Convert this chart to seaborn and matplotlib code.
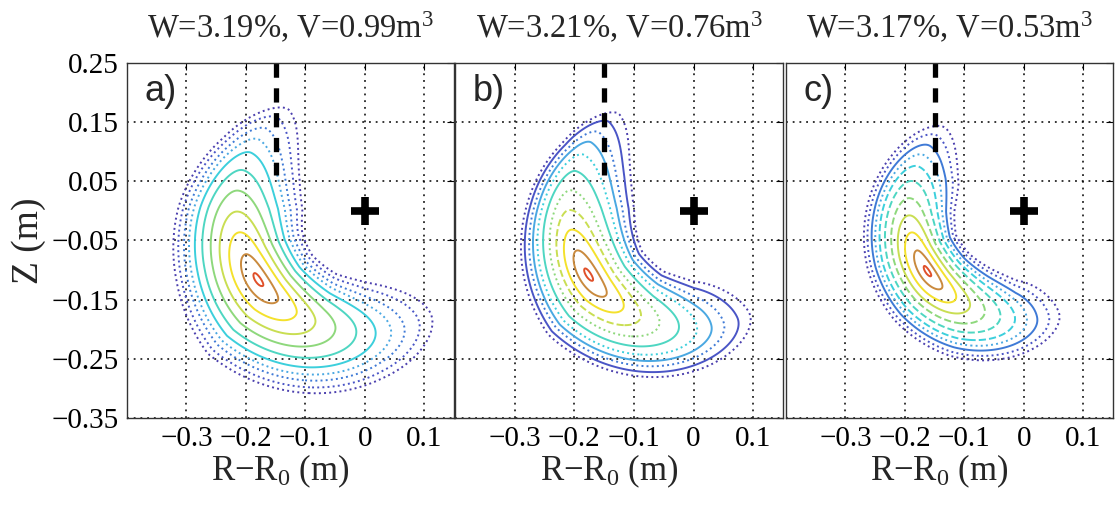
import numpy as np
import matplotlib
matplotlib.use("Agg")
import matplotlib.pyplot as plt
import seaborn as sns
import pandas as pd

# ---------------- data ----------------
titles = ["W=3.19%, V=0.99m$^3$", "W=3.21%, V=0.76m$^3$", "W=3.17%, V=0.53m$^3$"]
panel_labels = ["a)", "b)", "c)"]
x_ticks = [-0.3, -0.2, -0.1, 0.0, 0.1]
x_tick_labels = ["\u22120.3", "\u22120.2", "\u22120.1", "0", "0.1"]
y_ticks = [0.25, 0.15, 0.05, -0.05, -0.15, -0.25, -0.35]
y_tick_labels = ["0.25", "0.15", "0.05", "\u22120.05", "\u22120.15", "\u22120.25", "\u22120.35"]

# banana-shaped distribution in polar coordinates about (center_R, center_Z)
center_R = -0.01
center_Z = 0.0
peak_r = [0.205, 0.198, 0.183]          # m, radius of the maximum
peak_theta = [214.5, 213.0, 213.9]      # deg, angle of the maximum
span_top = [90.0, 88.0, 83.0]           # deg, extent towards the upper tip
span_bottom = [90.5, 88.0, 78.0]        # deg, extent towards the lower-right tip
# radial half-widths of the outermost contour along the banana (u=-1 upper tip, u=+1 lower tip)
u_nodes = [-1.0, -0.7, -0.4, -0.15, 0.1, 0.4, 0.7, 1.0]
width_out = [
    [0.058, 0.076, 0.107, 0.125, 0.146, 0.130, 0.113, 0.105],
    [0.050, 0.058, 0.078, 0.097, 0.116, 0.107, 0.098, 0.090],
    [0.060, 0.068, 0.079, 0.089, 0.095, 0.095, 0.088, 0.080],
]
width_in = [
    [0.130, 0.128, 0.120, 0.104, 0.097, 0.100, 0.115, 0.135],
    [0.130, 0.126, 0.118, 0.107, 0.096, 0.096, 0.110, 0.140],
    [0.110, 0.103, 0.083, 0.072, 0.074, 0.082, 0.092, 0.120],
]

# contour levels (normalised distance from the maximum), inner -> outer
levels = [0.04, 0.15, 0.27, 0.38, 0.49, 0.60, 0.70, 0.78, 0.85, 0.93, 1.00]
level_colors = ["#e0502a", "#c98a3e", "#f4e12c", "#c9de52", "#8ed87c", "#4ed6c2",
                "#3ccfdc", "#4aa8e2", "#3f7ad6", "#4a55c6", "#4b3fae"]
level_styles = [
    ["-", "-", "-", "-", "-", "-", "-", ":", ":", ":", ":"],
    ["-", "-", "-", "--", ":", "-", ":", "-", ":", "-", ":"],
    ["-", "-", "-", "-", "--", "--", "--", ":", "-", ":", ":"],
]

dash_R = [-0.15, -0.15]
dash_Z = [0.25, 0.06]
plus_R = [0.0]
plus_Z = [0.0]

xlim = (-0.4, 0.15)
ylim = (-0.35, 0.25)

# ---------------- style ----------------
sns.set_theme(style="white")
plt.rcParams["font.family"] = ["Liberation Serif", "DejaVu Serif"]
plt.rcParams["mathtext.fontset"] = "custom"
plt.rcParams["mathtext.rm"] = "Liberation Serif"
plt.rcParams["mathtext.it"] = "Liberation Serif:italic"
plt.rcParams["axes.unicode_minus"] = True

fig = plt.figure(figsize=(11.15, 5.07), dpi=100)
W, H = 1115.0, 507.0
boxes = [(127, 454), (455, 783), (786, 1113)]
top_px, bot_px = 63, 418

Rg = np.linspace(xlim[0], xlim[1], 800)
Zg = np.linspace(ylim[0], ylim[1], 800)
RR, ZZ = np.meshgrid(Rg, Zg)
dR = RR - center_R
dZ = ZZ - center_Z
rad = np.hypot(dR, dZ)
th = np.degrees(np.arctan2(dZ, dR)) % 360.0

for i in range(3):
    l, r = boxes[i]
    ax = fig.add_axes([l / W, (H - bot_px) / H, (r - l) / W, (bot_px - top_px) / H])

    dth = (th - peak_theta[i] + 180.0) % 360.0 - 180.0
    u = np.where(dth < 0, dth / span_top[i], dth / span_bottom[i])
    uc = np.clip(u, -1, 1)
    dr = rad - peak_r[i]
    w_o = np.interp(uc, u_nodes, width_out[i])
    w_i = np.interp(uc, u_nodes, width_in[i])
    v = np.where(dr < 0, dr / w_i, dr / w_o)
    D = np.sqrt(u ** 2 + v ** 2)

    ax.contour(RR, ZZ, D, levels=levels, colors=level_colors,
               linestyles=level_styles[i], linewidths=1.4)

    df_dash = pd.DataFrame({"R": dash_R, "Z": dash_Z})
    sns.lineplot(data=df_dash, x="R", y="Z", ax=ax, color="black", lw=3.8,
                 sort=False, estimator=None, legend=False)
    ax.lines[-1].set_dashes((2.7, 2.0))
    ax.plot(plus_R, plus_Z, marker="+", color="black", ms=20, mew=5.5, ls="none")

    ax.set_xlim(*xlim)
    ax.set_ylim(*ylim)
    ax.set_xticks(x_ticks)
    ax.set_xticklabels(x_tick_labels, fontsize=21)
    ax.set_yticks(y_ticks)
    if i == 0:
        ax.set_yticklabels(y_tick_labels, fontsize=21)
        ax.set_ylabel("Z (m)", fontsize=27, labelpad=4)
    else:
        ax.set_yticklabels([])
        ax.set_ylabel("")
    ax.set_xlabel("R\u2212R$_0$ (m)", fontsize=25, labelpad=0)
    ax.xaxis.label.set_x(0.47)
    ax.set_title(titles[i], fontsize=23.5, pad=18)
    ax.grid(True, color="black", linestyle=(0, (1.2, 3.2)), linewidth=1.1)
    ax.tick_params(direction="in", length=5, width=0.8, top=True, right=True,
                   pad=6, colors="black")
    for s in ax.spines.values():
        s.set_color("#333333")
        s.set_linewidth(1.0)
    ax.text(0.055, 0.92, panel_labels[i], transform=ax.transAxes,
            fontsize=26, family="Liberation Sans", va="center", ha="left")

fig.savefig("out.png", dpi=100)
